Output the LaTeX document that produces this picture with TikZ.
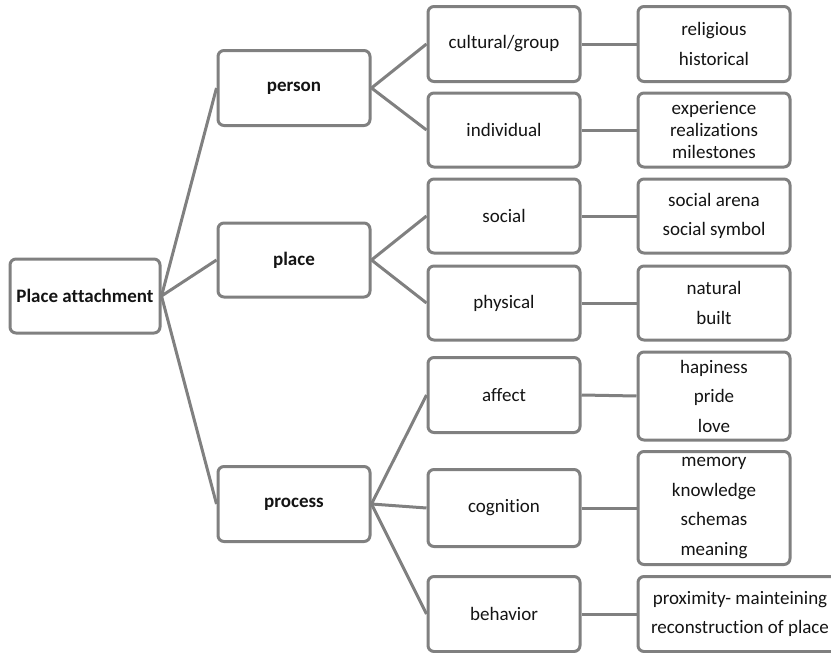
\documentclass[tikz,border=0pt]{standalone}
\usepackage{fontspec}
\setmainfont{Carlito}[Ligatures={NoCommon}]
\definecolor{edgegray}{RGB}{128,128,128}
\definecolor{txt}{RGB}{20,20,20}
\tikzset{
  box/.style={draw=edgegray, line width=3pt, rounded corners=6pt, fill=white,
    minimum width=152pt, inner sep=0pt, align=center, text=txt,
    font=\fontsize{19}{29.5}\selectfont},
  boldbox/.style={box, font=\fontsize{19}{29.5}\selectfont\bfseries},
  conn/.style={draw=edgegray, line width=3pt}
}
\begin{document}
\begin{tikzpicture}[x=1pt,y=-1pt]
\useasboundingbox (0,0) rectangle (831,653);
% level 0
\node[boldbox, minimum width=150pt, minimum height=74pt] (root) at (85,296) {Place attachment};
% level 1
\node[boldbox, minimum height=75pt] (person) at (294,88) {person};
\node[boldbox, minimum height=74pt] (place) at (294,260) {place};
\node[boldbox, minimum height=75pt] (process) at (294,504) {process};
% level 2
\node[box, minimum height=75pt] (cultural) at (504,44) {cultural/group};
\node[box, minimum height=74pt] (individual) at (504,130) {individual};
\node[box, minimum height=74pt] (social) at (504,216) {social};
\node[box, minimum height=74pt] (physical) at (504,303) {physical};
\node[box, minimum height=75pt] (affect) at (504,395) {affect};
\node[box, minimum height=77pt] (cognition) at (504,508) {cognition};
\node[box, minimum height=75pt] (behavior) at (504,614) {behavior};
% level 3
\node[box, minimum height=75pt] (religious) at (714,44) {religious\\historical};
\node[box, minimum height=74pt, font=\fontsize{19}{22}\selectfont] (experience) at (714,130) {experience\\realizations\\milestones};
\node[box, minimum height=74pt] (arena) at (714,216) {social arena\\social symbol};
\node[box, minimum height=74pt] (natural) at (714,303) {natural\\built};
\node[box, minimum height=88pt] (hapiness) at (714,396) {hapiness\\pride\\love};
\node[box, minimum height=113pt] (memory) at (714,508) {memory\\knowledge\\schemas\\meaning};
\node[box, minimum width=204pt, minimum height=75pt] (proximity) at (740,614) {proximity- mainteining\\reconstruction of place};
% connectors
\draw[conn] (root.east) -- (person.west);
\draw[conn] (root.east) -- (place.west);
\draw[conn] (root.east) -- (process.west);
\draw[conn] (person.east) -- (cultural.west);
\draw[conn] (person.east) -- (individual.west);
\draw[conn] (place.east) -- (social.west);
\draw[conn] (place.east) -- (physical.west);
\draw[conn] (process.east) -- (affect.west);
\draw[conn] (process.east) -- (cognition.west);
\draw[conn] (process.east) -- (behavior.west);
\draw[conn] (cultural.east) -- (religious.west);
\draw[conn] (individual.east) -- (experience.west);
\draw[conn] (social.east) -- (arena.west);
\draw[conn] (physical.east) -- (natural.west);
\draw[conn] (affect.east) -- (hapiness.west);
\draw[conn] (cognition.east) -- (memory.west);
\draw[conn] (behavior.east) -- (proximity.west);
\end{tikzpicture}
\end{document}
